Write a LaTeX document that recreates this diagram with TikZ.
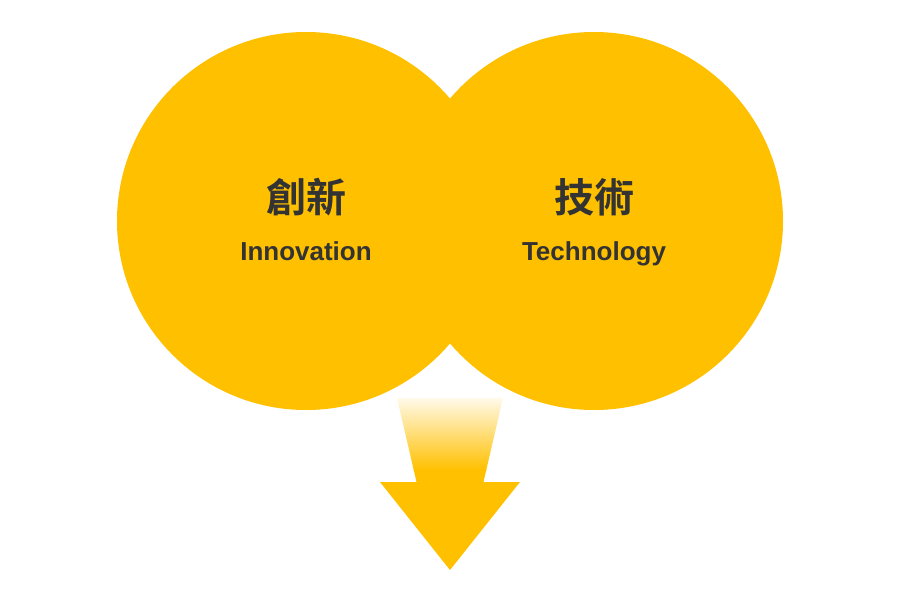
\documentclass[tikz,border=0pt]{standalone}
\usepackage{fontspec}
\setmainfont{Liberation Sans}
\newfontfamily\cjk{Noto Sans CJK TC Bold}
\definecolor{gold}{HTML}{FFC000}
\definecolor{ink}{HTML}{333333}
\tikzset{
  bigcirc/.style={circle, fill=gold, draw=none, minimum size=378pt, inner sep=0pt},
  zhlabel/.style={anchor=base, text=ink, inner sep=0pt, font=\cjk\fontsize{40}{44}\selectfont},
  enlabel/.style={anchor=base, text=ink, inner sep=0pt, font=\bfseries\fontsize{26}{30}\selectfont},
}
\begin{document}
\begin{tikzpicture}[x=1pt,y=-1pt]
\useasboundingbox[fill=white] (0,0) rectangle (900,600);
% arrow shaft with gradient
\begin{scope}
  \clip (397,398) -- (503,398) -- (483,484) -- (417,484) -- cycle;
  \shade[top color=gold!6, bottom color=gold] (390,396) rectangle (510,470);
  \fill[gold] (390,469) rectangle (510,490);
\end{scope}
\fill[gold] (380,482) -- (520,482) -- (450,570) -- cycle;
% circles
\node[bigcirc] (left) at (306,221) {};
\node[bigcirc] (right) at (594,221) {};
% labels
\node[zhlabel] (zhL) at (306,212) {創新};
\node[enlabel] (enL) at (306,260) {Innovation};
\node[zhlabel] (zhR) at (594,212) {技術};
\node[enlabel] (enR) at (594,260) {Technology};
\end{tikzpicture}
\end{document}
